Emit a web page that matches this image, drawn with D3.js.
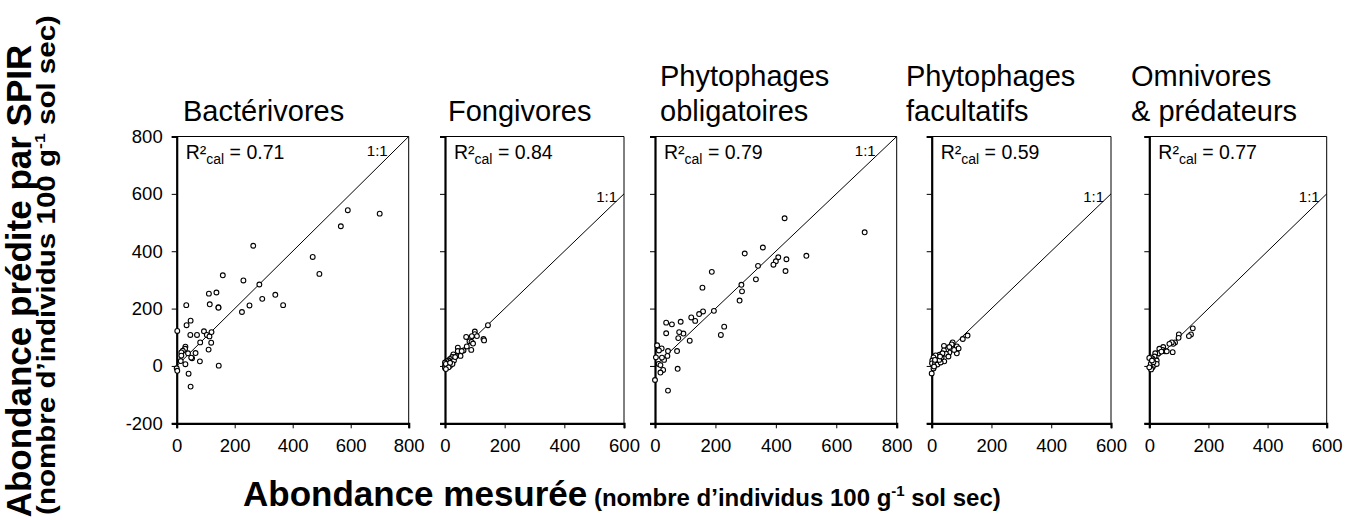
<!DOCTYPE html>
<html>
<head>
<meta charset="utf-8">
<script src="https://cdn.jsdelivr.net/npm/d3@7"></script>
<style>
  body { margin: 0; background: #fff; }
  svg { display: block; }
  text { font-family: "Liberation Sans", Arial, sans-serif; fill: #000; }
</style>
</head>
<body>
<svg id="chart" width="1349" height="520"></svg>
<script>
// Trophic groups (one panel each)
const titleLines = [
  ["Bactérivores"],
  ["Fongivores"],
  ["Phytophages", "obligatoires"],
  ["Phytophages", "facultatifs"],
  ["Omnivores", "& prédateurs"]
];
const r2Values = ["0.71", "0.84", "0.79", "0.59", "0.77"];
const xMaxima = [800, 600, 800, 600, 600];
const yTicks = [-200, 0, 200, 400, 600, 800];
const xTicks800 = [0, 200, 400, 600, 800];
const xTicks600 = [0, 200, 400, 600];

// [measured, predicted] abundances (individuals per 100 g dry soil)
const bacterivores = [
  [700,531],[590,543],[566,487],[469,380],[492,321],[264,419],[159,316],[230,298],
  [285,284],[340,248],[295,234],[367,212],[251,211],[225,188],[137,256],[111,252],
  [114,215],[144,205],[144,203],[33,212],[48,158],[34,142],[2,122],[47,108],
  [70,108],[94,121],[104,108],[113,103],[120,118],[119,81],[110,57],[81,82],
  [65,45],[80,16],[53,27],[50,29],[39,44],[30,67],[29,60],[21,53],[16,47],
  [16,36],[14,17],[30,6],[0,-8],[2,-17],[41,-27],[48,-72],[145,1]
];
const fongivores = [
  [144,142],[100,120],[100,111],[90,104],[107,104],[71,101],[82,86],[89,84],
  [94,78],[88,56],[129,94],[131,89],[62,54],[43,64],[43,52],[52,35],[37,35],
  [28,40],[24,31],[17,24],[12,19],[6,16],[0,12],[0,1],[0,-7],[11,7],[17,1],
  [22,14],[30,19],[25,7],[8,0],[3,7],[17,11],[12,-5],[34,31],[73,68],[56,52],[3,-11]
];
const phytoObligatoires = [
  [694,466],[429,515],[501,384],[435,372],[432,331],[408,379],[400,365],[392,353],
  [357,413],[341,349],[334,302],[297,392],[286,283],[288,260],[280,228],[188,328],
  [157,273],[229,137],[218,108],[195,192],[159,190],[146,181],[133,157],[120,169],
  [115,88],[94,113],[80,118],[77,97],[85,154],[56,145],[37,151],[37,114],[73,52],
  [43,52],[41,35],[30,21],[23,29],[22,61],[7,72],[3,30],[13,54],[12,7],[18,3],
  [27,-14],[18,-23],[0,-49],[43,-86],[75,-10]
];
const phytoFacultatifs = [
  [120,106],[104,94],[84,68],[90,61],[84,44],[70,82],[67,75],[75,56],[59,47],
  [50,58],[41,70],[41,54],[42,16],[33,29],[26,39],[19,23],[13,37],[6,30],[2,19],
  [1,9],[11,9],[19,5],[0,-26],[6,-9],[30,12],[48,42],[36,44],[59,66],[25,21],
  [11,21],[8,-2],[28,33],[56,33]
];
const omnivoresPredateurs = [
  [147,131],[141,110],[134,104],[100,110],[99,98],[87,82],[81,77],[76,82],[68,77],
  [79,48],[47,66],[45,56],[53,51],[34,60],[30,44],[20,44],[18,33],[25,19],[11,25],
  [5,30],[0,28],[5,7],[11,-5],[6,-12],[0,-5],[17,4],[25,7],[41,50],[59,51],[14,13],[9,19]
];
const seriesList = [bacterivores, fongivores, phytoObligatoires, phytoFacultatifs, omnivoresPredateurs];

// Panel geometry
const panelLeft  = [176.7, 445, 655, 931.7, 1149.3];
const panelRight = [408.7, 624, 896.7, 1111, 1326.7];
const titleLeft  = [183, 448, 660, 906, 1131];
const plotTop = 136.5, plotBottom = 423.3;
const FONT = "'Liberation Sans', Arial, sans-serif";
const tickFormat = d => String(d);   // plain hyphen for negatives

const svg = d3.select("#chart");
const y = d3.scaleLinear().domain([-200, 800]).range([plotBottom, plotTop]);

seriesList.forEach((data, i) => {
  const xMax = xMaxima[i];
  const x = d3.scaleLinear().domain([0, xMax]).range([panelLeft[i], panelRight[i]]);
  const g = svg.append("g");

  // frame: thin top and right edges
  g.append("line").attr("x1", x(0)).attr("x2", x(xMax)).attr("y1", y(800)).attr("y2", y(800))
    .attr("stroke", "#000").attr("stroke-width", 1);
  g.append("line").attr("x1", x(xMax)).attr("x2", x(xMax)).attr("y1", y(800)).attr("y2", y(-200))
    .attr("stroke", "#000").attr("stroke-width", 1);

  // bottom axis
  const xAxis = d3.axisBottom(x).tickValues(xMax === 800 ? xTicks800 : xTicks600)
    .tickSize(5).tickPadding(11).tickFormat(tickFormat);
  const gx = g.append("g").attr("transform", `translate(0,${y(-200)})`).call(xAxis);
  gx.select(".domain").attr("stroke-width", 2.2);
  gx.selectAll(".tick line").attr("stroke-width", 1);
  gx.selectAll(".tick text").style("font-size", "18.5px").style("font-family", FONT);

  // left axis (labels on the first panel only)
  const yAxis = d3.axisLeft(y).tickValues(yTicks).tickSize(5).tickPadding(9)
    .tickFormat(i === 0 ? tickFormat : () => "");
  const gy = g.append("g").attr("transform", `translate(${x(0)},0)`).call(yAxis);
  gy.select(".domain").attr("stroke-width", 2.2);
  gy.selectAll(".tick line").attr("stroke-width", 1);
  gy.selectAll(".tick text").style("font-size", "18.5px").style("font-family", FONT);

  // 1:1 reference line
  g.append("line").attr("x1", x(0)).attr("y1", y(0)).attr("x2", x(xMax)).attr("y2", y(xMax))
    .attr("stroke", "#000").attr("stroke-width", 1);
  const wide = xMax === 800;
  g.append("text")
    .attr("x", x(xMax) - (wide ? 21 : 7))
    .attr("y", y(xMax) + (wide ? 19 : 8))
    .attr("text-anchor", "end").style("font-size", "15px").text("1:1");

  // observations
  g.append("g").selectAll("circle").data(data).join("circle")
    .attr("cx", d => x(d[0])).attr("cy", d => y(d[1])).attr("r", 2.4)
    .attr("fill", "#fff").attr("stroke", "#000").attr("stroke-width", 1.1);

  // calibration R²
  const r2 = g.append("text").attr("x", x(0) + 9).attr("y", y(800) + 22).style("font-size", "19.5px");
  r2.append("tspan").text("R²");
  r2.append("tspan").attr("dy", 5).style("font-size", "14px").text("cal");
  r2.append("tspan").attr("dy", -5).text(" = " + r2Values[i]);

  // group title
  const lines = titleLines[i];
  const t = g.append("text").style("font-size", "29px");
  lines.forEach((ln, k) => {
    t.append("tspan").attr("x", titleLeft[i])
      .attr("y", 121 - (lines.length - 1 - k) * 35).text(ln);
  });
});

// y-axis title, two lines
svg.append("text").attr("transform", "translate(31,281) rotate(-90)")
  .attr("text-anchor", "middle").style("font-size", "35px").style("font-weight", "bold")
  .text("Abondance prédite par SPIR");
const yl2 = svg.append("text").attr("text-anchor", "middle")
  .style("font-size", "25px").style("font-weight", "bold");
yl2.append("tspan").text("(nombre d’individus 100 g");
yl2.append("tspan").attr("dy", -10).style("font-size", "15px").text("-1");
yl2.append("tspan").attr("dy", 10).text(" sol sec)");
const yl2Len = yl2.node().getComputedTextLength();
yl2.attr("transform", `translate(55,265) rotate(-90) scale(${500 / yl2Len},1)`);

// x-axis title
const xl = svg.append("text").attr("x", 243).attr("y", 506).style("font-weight", "bold");
xl.append("tspan").style("font-size", "35px").text("Abondance mesurée");
xl.append("tspan").style("font-size", "24px").text(" (nombre d’individus 100 g");
xl.append("tspan").attr("dy", -10).style("font-size", "15px").text("-1");
xl.append("tspan").attr("dy", 10).style("font-size", "24px").text(" sol sec)");
</script>
</body>
</html>
